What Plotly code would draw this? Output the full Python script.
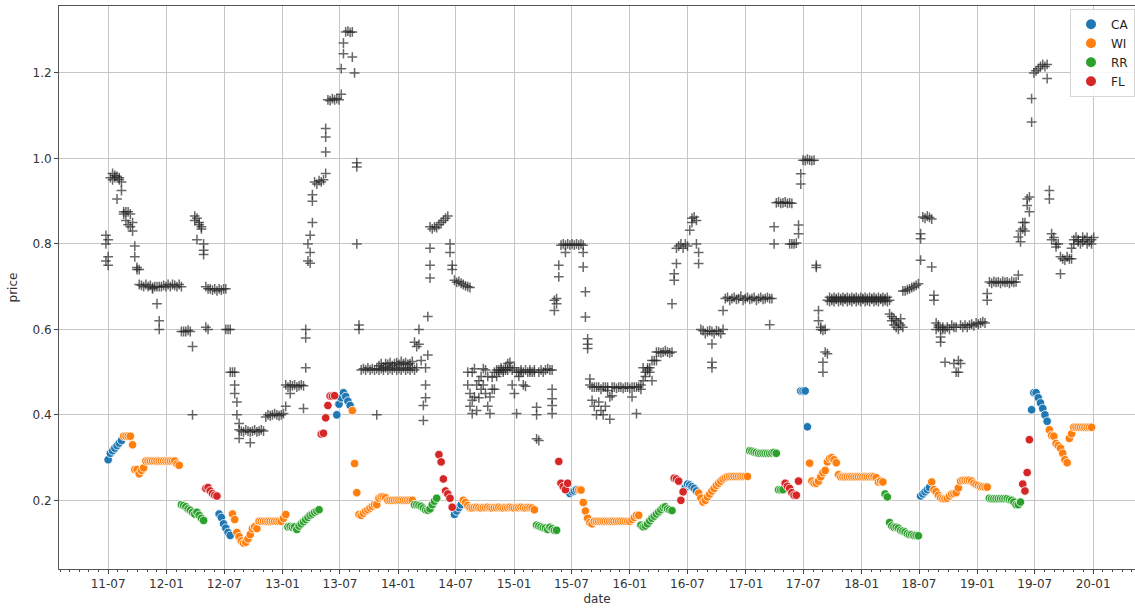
import pandas as pd
import plotly.graph_objects as go

# week 0 of the weekly series
ORIGIN = pd.Timestamp("2011-07-01")

# grey "+" price observations: (first week index, weekly values); a tuple = several observations that week
price_chunks = [
    (-1, [(0.82, 0.80, 0.76), (0.81, 0.75, 0.77), 0.955, (0.965, 0.95), (0.96, 0.955), (0.958, 0.905),
          (0.95, 0.955), (0.945, 0.925), (0.875, 0.87), (0.875, 0.855), (0.875, 0.845), (0.87, 0.84),
          (0.85, 0.83), (0.795, 0.77), (0.745, 0.74), (0.74, 0.705)]),
    (15, [0.703, 0.70, 0.705, 0.70, 0.703, (0.698, 0.695), 0.70, (0.70, 0.66), (0.70, 0.62, 0.60), 0.70,
          0.703, 0.70, 0.705, 0.70, 0.705, 0.703, 0.70, 0.705]),
    (33, [(0.70, 0.595), 0.595, 0.595, 0.598, 0.595, (0.56, 0.40), (0.865, 0.855), (0.86, 0.81),
          (0.85, 0.845), (0.84, 0.835), (0.80, 0.785, 0.775), (0.70, 0.605), (0.695, 0.60), 0.695, 0.692,
          0.695, 0.69, 0.695, 0.692, 0.695, (0.695, 0.60), 0.60, (0.60, 0.50), 0.50, (0.50, 0.47, 0.45),
          (0.43, 0.40), (0.38, 0.365, 0.345)]),
    (60, [0.362, 0.36, 0.365, 0.362, (0.36, 0.335), 0.362, 0.365, 0.36, 0.362, 0.365, 0.362, 0.395,
          0.40, 0.398, 0.40, 0.403, 0.40, 0.398, 0.40, 0.403, (0.47, 0.42), 0.465, (0.47, 0.45), 0.468,
          0.47, 0.465, 0.468, 0.47, (0.468, 0.415), (0.51, 0.58, 0.60)]),
    (90, [(0.76, 0.80), (0.82, 0.78, 0.755), (0.85, 0.90, 0.915), 0.945, 0.94, 0.948, 0.945, 0.95,
          (0.965, 1.015, 1.05, 1.07), 1.137, 1.135, 1.14, 1.137, 1.14, 1.137, (1.15, 1.21), (1.245, 1.27),
          1.296, 1.298, 1.295, (1.296, 1.237), 1.20, (0.99, 0.98, 0.80), (0.61, 0.60)]),
    (114, [0.505, 0.508, 0.505, 0.51, 0.505, 0.508, 0.505, (0.508, 0.40), (0.505, 0.515), (0.508, 0.52),
           (0.505, 0.512), (0.51, 0.52), (0.505, 0.518), (0.508, 0.522), (0.505, 0.515), (0.51, 0.52),
           (0.505, 0.522), (0.508, 0.518), (0.505, 0.525), (0.51, 0.52), (0.505, 0.522), (0.508, 0.518),
           (0.505, 0.52), (0.51, 0.525), (0.57, 0.505), (0.56, 0.51), (0.60, 0.565), 0.527, (0.422, 0.387),
           (0.47, 0.44, 0.51), (0.54, 0.63), (0.79, 0.75, 0.72, 0.84), 0.835, 0.84, 0.838, 0.845, 0.85,
           0.855, 0.86, 0.865, (0.80, 0.78), (0.75, 0.74), 0.715, 0.71, 0.712, 0.708, 0.705, 0.702]),
    (162, [(0.70, 0.50, 0.47), (0.698, 0.45, 0.42), (0.434, 0.403, 0.50), (0.508, 0.442), (0.47, 0.41),
           (0.48, 0.44), (0.49, 0.46), (0.508, 0.47), (0.505, 0.45), (0.49, 0.42), (0.442, 0.403),
           (0.488, 0.46), (0.50, 0.46), (0.505, 0.49), (0.505, 0.50), (0.505, 0.51), (0.50, 0.505),
           (0.505, 0.51), (0.505, 0.52), (0.51, 0.523), (0.505, 0.47), (0.45, 0.51), (0.403, 0.50),
           (0.50, 0.49), (0.50, 0.505), (0.50, 0.47), (0.505, 0.467), 0.50, (0.50, 0.505), 0.50,
           (0.505, 0.50), (0.418, 0.40, 0.344), (0.50, 0.34), 0.505, 0.50, 0.505, 0.508, 0.505,
           (0.46, 0.438, 0.422, 0.403, 0.505)]),
    (201, [(0.668, 0.644), (0.672, 0.66), (0.723, 0.75), 0.797, 0.80, (0.797, 0.78), 0.80, 0.797, 0.80,
           0.797, 0.80, 0.797, 0.80, (0.78, 0.746, 0.797), (0.688, 0.629), (0.578, 0.565, 0.555),
           (0.484, 0.47), (0.465, 0.434), (0.465, 0.42), (0.465, 0.40), (0.465, 0.43), (0.46, 0.41),
           (0.465, 0.40), (0.465, 0.42), (0.457, 0.465), (0.442, 0.39), (0.465, 0.445), 0.465, 0.462,
           0.465, 0.465, 0.462, 0.465, 0.465, 0.462, (0.465, 0.442), 0.465, (0.465, 0.403), 0.465,
           (0.46, 0.47), (0.48, 0.51), (0.50, 0.49), (0.505, 0.51), (0.50, 0.51), (0.48, 0.527), 0.527,
           (0.527, 0.547), 0.547, 0.545, 0.547, 0.55, 0.547, 0.545, (0.547, 0.66)]),
    (255, [(0.715, 0.73), (0.754, 0.79), 0.795, 0.80, 0.79, 0.80, 0.795, 0.832, (0.85, 0.86), 0.863,
           (0.855, 0.80), (0.78, 0.754), 0.60, 0.597, 0.59, 0.595, 0.597, (0.566, 0.523, 0.51, 0.595),
           0.59, 0.597, 0.595, 0.59, (0.644, 0.60)]),
    (278, [0.672, 0.675, 0.668, 0.672, 0.675, 0.67, 0.672, 0.678, 0.668, 0.672, 0.675, 0.67, 0.672,
           0.675, 0.668, 0.672, 0.675, 0.67, 0.672, 0.675, (0.672, 0.611), 0.672, (0.84, 0.80), 0.896,
           0.898, 0.895, 0.896, 0.898, 0.895, (0.896, 0.80), (0.895, 0.80), 0.80, 0.802, (0.844, 0.824),
           (0.94, 0.964), 0.996, 0.995, 0.998, 0.996, 0.995, 0.996, (0.75, 0.745), (0.644, 0.62),
           (0.605, 0.60), (0.523, 0.50, 0.598), (0.547, 0.60), (0.543, 0.668)]),
    (325, [(0.665, 0.675), (0.668, 0.672), (0.665, 0.675), (0.67, 0.672), (0.665, 0.675), (0.668, 0.672),
           (0.665, 0.675), (0.67, 0.672), (0.665, 0.675), (0.668, 0.672), (0.665, 0.675), (0.67, 0.672),
           (0.665, 0.675), (0.668, 0.672), (0.665, 0.675), (0.67, 0.672), (0.665, 0.675), (0.668, 0.672),
           (0.665, 0.675), (0.67, 0.672), (0.665, 0.675), (0.668, 0.672), (0.665, 0.675), (0.67, 0.672),
           (0.665, 0.675), (0.668, 0.672), (0.665, 0.675)]),
    (352, [(0.668, 0.636), (0.63, 0.62), (0.625, 0.61), (0.62, 0.605), (0.615, 0.60), (0.61, 0.625),
           (0.69, 0.605)]),
    (359, [0.69, 0.693, 0.695, 0.698, 0.70, 0.703, 0.707]),
    (366, [(0.762, 0.812, 0.824), 0.863, 0.86, 0.865, 0.862, (0.858, 0.746), (0.68, 0.668)]),
    (373, [(0.615, 0.60), (0.605, 0.61), (0.582, 0.57, 0.60), (0.605, 0.60), (0.523, 0.60), 0.605, 0.60,
           0.61, (0.52, 0.605), (0.50, 0.605), (0.527, 0.50), (0.52, 0.61)]),
    (385, [0.605, 0.61, 0.605, 0.61, 0.612, 0.608, 0.615, 0.612, 0.615, 0.618, 0.615]),
    (396, [(0.668, 0.684), 0.711, 0.708, 0.712, 0.71, 0.711, 0.708, 0.712, 0.71, 0.711, 0.708, 0.712,
           0.71, 0.711]),
    (410, [(0.727, 0.816), (0.83, 0.805), (0.85, 0.835), (0.85, 0.83), (0.89, 0.905), (0.91, 0.875),
           (1.085, 1.14)]),
    (417, [1.20, 1.205, 1.21, 1.215, 1.22, 1.215, (1.22, 1.187)]),
    (424, [(0.925, 0.905), (0.824, 0.81), 0.815, (0.80, 0.793), 0.80, (0.77, 0.73), 0.765, 0.762, 0.77,
           0.765, (0.79, 0.765)]),
    (435, [(0.81, 0.80), 0.816, (0.805, 0.81), 0.80, (0.816, 0.805), 0.81, (0.80, 0.815), 0.805,
           (0.81, 0.80), 0.815]),
]

# coloured weekly series: (category, first week index, weekly values)
retailer_runs = [
    ("CA", 0, [0.295, 0.31, 0.316, 0.322, 0.328, 0.334, 0.34]),
    ("WI", 7, [0.35, 0.35, 0.35, 0.35, 0.33, 0.272, 0.272, 0.262, 0.27, 0.276, 0.292, 0.292, 0.292, 0.292,
               0.292, 0.292, 0.292, 0.292, 0.292, 0.292, 0.292, 0.292, 0.292, 0.292, 0.285, 0.282]),
    ("RR", 33, [0.19, 0.188, 0.185, 0.18, 0.177, 0.172, 0.168, 0.172, 0.165, 0.158, 0.153]),
    ("FL", 44, [0.228, 0.23, 0.222, 0.216, 0.212, 0.21]),
    ("CA", 50, [0.168, 0.16, 0.145, 0.135, 0.125, 0.118]),
    ("WI", 56, [0.168, 0.155, 0.125, 0.115, 0.105, 0.10, 0.102, 0.11, 0.12, 0.134, 0.138, 0.134, 0.151,
                0.151, 0.151, 0.151, 0.151, 0.151, 0.151, 0.151, 0.151, 0.151, 0.151, 0.158, 0.167]),
    ("RR", 81, [0.138, 0.139, 0.137, 0.138, 0.132, 0.14, 0.145, 0.15, 0.155, 0.16, 0.165, 0.168, 0.172,
                0.175, 0.178]),
    ("FL", 96, [0.355, 0.357, 0.393, 0.422, 0.444, 0.444, 0.445]),
    ("CA", 103, [0.40, 0.425, 0.44, 0.452, 0.443, 0.432, 0.422]),
    ("WI", 110, [0.41, 0.286, 0.218, 0.167, 0.165, 0.17, 0.175, 0.178, 0.182, 0.186, 0.19, 0.19, 0.205,
                 0.208, 0.208, 0.206, 0.20, 0.20, 0.20, 0.20, 0.20, 0.20, 0.20, 0.20, 0.20, 0.20, 0.20,
                 0.20]),
    ("RR", 138, [0.19, 0.19, 0.188, 0.186, 0.182, 0.178, 0.177, 0.18, 0.19, 0.198, 0.205]),
    ("FL", 149, [0.307, 0.29, 0.25, 0.222, 0.215, 0.205, 0.184]),
    ("CA", 156, [0.167, 0.175, 0.183, 0.19]),
    ("WI", 160, [0.2, 0.195, 0.188, 0.183, 0.182, 0.183, 0.184, 0.183, 0.182, 0.183, 0.183, 0.184, 0.183,
                 0.182, 0.183, 0.183, 0.184, 0.183, 0.182, 0.183, 0.183, 0.184, 0.183, 0.182, 0.183, 0.183,
                 0.184, 0.183, 0.182, 0.183, 0.183, 0.182, 0.178]),
    ("RR", 193, [0.142, 0.14, 0.138, 0.136, 0.135, 0.132, 0.137, 0.134, 0.13, 0.13]),
    ("FL", 203, [0.291, 0.24, 0.232, 0.225, 0.24]),
    ("CA", 208, [0.216, 0.22, 0.222, 0.225]),
    ("WI", 212, [0.225, 0.224, 0.195, 0.175, 0.158, 0.148, 0.145, 0.151, 0.151, 0.151, 0.151, 0.151,
                 0.151, 0.151, 0.151, 0.151, 0.151, 0.151, 0.151, 0.151, 0.151, 0.151, 0.151, 0.151, 0.155,
                 0.16, 0.165, 0.165]),
    ("RR", 240, [0.142, 0.138, 0.14, 0.145, 0.152, 0.158, 0.163, 0.168, 0.173, 0.178, 0.183, 0.185, 0.18,
                 0.178, 0.176]),
    ("FL", 255, [0.252, 0.25, 0.245, 0.2, 0.22]),
    ("CA", 260, [0.23, 0.238, 0.236, 0.232, 0.228, 0.222]),
    ("WI", 266, [0.217, 0.205, 0.196, 0.2, 0.208, 0.215, 0.222, 0.228, 0.235, 0.24, 0.245, 0.25, 0.253,
                 0.255, 0.256, 0.256, 0.256, 0.256, 0.256, 0.256, 0.256, 0.256, 0.256]),
    ("RR", 289, [0.316, 0.315, 0.313, 0.312, 0.31, 0.31, 0.31, 0.31, 0.31, 0.31, 0.311, 0.312, 0.31,
                 0.225, 0.225, 0.225]),
    ("FL", 305, [0.24, 0.233, 0.228, 0.218, 0.212, 0.212, 0.245]),
    ("CA", 312, [0.456, 0.456, 0.456, 0.372]),
    ("WI", 316, [0.287, 0.245, 0.24, 0.24, 0.245, 0.255, 0.265, 0.27, 0.29, 0.298, 0.3, 0.295, 0.288,
                 0.26, 0.255, 0.255, 0.255, 0.255, 0.255, 0.255, 0.255, 0.255, 0.255, 0.255, 0.255, 0.255,
                 0.255, 0.255, 0.255, 0.255, 0.253, 0.243, 0.245, 0.243]),
    ("RR", 350, [0.215, 0.208, 0.148, 0.14, 0.137, 0.137, 0.135, 0.13, 0.128, 0.126, 0.122, 0.12, 0.12,
                 0.118, 0.118, 0.117]),
    ("CA", 366, [0.21, 0.215, 0.22, 0.225, 0.23]),
    ("WI", 371, [0.243, 0.225, 0.22, 0.212, 0.206, 0.204, 0.204, 0.205, 0.21, 0.215, 0.216, 0.218, 0.229,
                 0.245, 0.247, 0.247, 0.247, 0.247, 0.245, 0.24, 0.237, 0.235, 0.232, 0.232, 0.231, 0.231]),
    ("RR", 397, [0.205, 0.204, 0.204, 0.204, 0.204, 0.204, 0.204, 0.204, 0.204, 0.202, 0.2, 0.196, 0.19,
                 0.19, 0.196]),
    ("FL", 412, [0.238, 0.222, 0.265, 0.342]),
    ("CA", 416, [0.412, 0.452, 0.452, 0.44, 0.428, 0.415, 0.4, 0.385]),
    ("WI", 424, [0.365, 0.352, 0.35, 0.333, 0.328, 0.322, 0.31, 0.295, 0.288, 0.345, 0.356, 0.371, 0.371,
                 0.371, 0.371, 0.371, 0.371, 0.371, 0.371, 0.371]),
]

categories = ["CA", "WI", "RR", "FL"]
palette = ["#1f77b4", "#ff7f0e", "#2ca02c", "#d62728"]
y_ticks = [0.2, 0.4, 0.6, 0.8, 1.0, 1.2]


def week_date(w):
    return ORIGIN + pd.Timedelta(weeks=w)


px_, py_ = [], []
for start, vals in price_chunks:
    for i, v in enumerate(vals):
        d = week_date(start + i)
        for y in (v if isinstance(v, tuple) else (v,)):
            px_.append(d)
            py_.append(y)

series = {c: ([], []) for c in categories}
for cat, start, vals in retailer_runs:
    for i, y in enumerate(vals):
        series[cat][0].append(week_date(start + i))
        series[cat][1].append(y)

FONT = "DejaVu Sans, Arial, sans-serif"
fig = go.Figure()
fig.add_trace(go.Scatter(
    x=px_, y=py_, mode="markers", showlegend=False, name="price",
    marker=dict(symbol="cross-thin", size=7, color="rgba(40,40,40,0.7)",
                line=dict(width=1.5, color="rgba(40,40,40,0.7)")),
))
for cat, col in zip(categories, palette):
    xs, ys = series[cat]
    fig.add_trace(go.Scatter(
        x=xs, y=ys, mode="markers", name=cat,
        marker=dict(symbol="circle", size=8.5, color=col, line=dict(width=0.8, color="white")),
    ))

fig.update_layout(
    width=1135, height=611,
    margin=dict(l=59, r=0, t=6, b=42),
    paper_bgcolor="white", plot_bgcolor="white",
    font=dict(family=FONT, size=12, color="#333333"),
    legend=dict(x=1, xanchor="right", y=0.995, yanchor="top",
                bgcolor="rgba(255,255,255,0.85)", bordercolor="#d6d6d6", borderwidth=1,
                font=dict(size=12, color="#262626"), itemsizing="constant"),
    xaxis=dict(
        type="date",
        range=[pd.Timestamp("2011-01-27"), pd.Timestamp("2020-05-12")],
        tickformat="%y-%m", dtick="M6", tick0="2011-01-01",
        ticks="outside", ticklen=4, tickwidth=1, tickcolor="#444",
        showgrid=True, gridcolor="#c6c6c6", gridwidth=1, zeroline=False,
        showline=True, linecolor="#555", linewidth=1, mirror=True,
        minor=dict(dtick="M1", ticks="outside", ticklen=2, tickcolor="#444", showgrid=False),
        title=dict(text="date", standoff=4, font=dict(size=12, color="#333")),
        automargin=False,
    ),
    yaxis=dict(
        range=[0.0394, 1.3566],
        tickvals=y_ticks, ticktext=[f"{v:.1f}" for v in y_ticks],
        ticks="outside", ticklen=4, tickwidth=1, tickcolor="#444",
        showgrid=True, gridcolor="#c6c6c6", gridwidth=1, zeroline=False,
        showline=True, linecolor="#555", linewidth=1, mirror=False,
        title=dict(text="price", standoff=12, font=dict(size=12, color="#333")),
        automargin=False,
    ),
)

fig.write_html(
    "out.html",
    config={"displayModeBar": False},
    post_script="document.body.style.margin='0';document.body.style.overflow='hidden';",
)
